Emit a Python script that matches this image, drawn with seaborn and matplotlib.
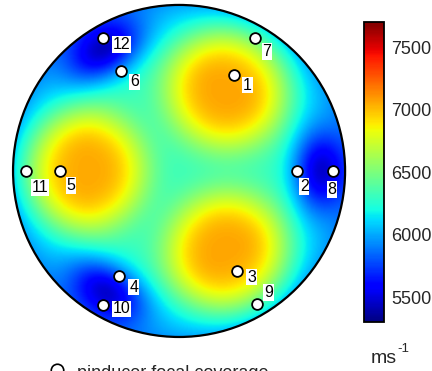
import numpy as np
import matplotlib
matplotlib.use("Agg")
import matplotlib.pyplot as plt
import matplotlib.patches as mpatches
from matplotlib.lines import Line2D
import seaborn as sns

# transducer positions on the unit disc
point_id = ["1", "2", "3", "4", "5", "6", "7", "8", "9", "10", "11", "12"]
point_x = [0.33, 0.71, 0.35, -0.36, -0.72, -0.35, 0.46, 0.93, 0.47, -0.46, -0.92, -0.46]
point_y = [0.58, 0.00, -0.60, -0.63, 0.00, 0.60, 0.80, 0.00, -0.80, -0.81, 0.00, 0.80]

# velocity field: background, three fast spots, three slow spots (ms-1)
v_background = 6310
v_rim_drop = 320
hot_angle = [60, 180, -60]
hot_radius = [0.57, 0.57, 0.57]
hot_gain = [750, 740, 750]
dip_angle = [0, 122, -121]
dip_radius = [0.84, 0.85, 0.84]
dip_depth = [700, 720, 700]

v_min, v_max = 5300, 7700
cbar_ticks = [5500, 6000, 6500, 7000, 7500]

# label box offsets in pixels (right, down) from each marker
label_dx = [8, 2, 9, 9, 6, 8, 6, -7, 6, 9, 4, 9]
label_dy = [2, 7, -2, 3, 6, 2, 5, 10, -20, -5, 8, -2]


def build_field(n=400):
    g = np.linspace(-1, 1, n)
    xx, yy = np.meshgrid(g, g)
    rr = np.hypot(xx, yy)
    tt = np.arctan2(yy, xx)
    v = np.full_like(xx, float(v_background))
    v -= v_rim_drop * np.clip((rr - 0.55) / 0.45, 0, None) ** 2
    for a, r0, gain in zip(hot_angle, hot_radius, hot_gain):
        cx, cy = r0 * np.cos(np.radians(a)), r0 * np.sin(np.radians(a))
        d = np.hypot(xx - cx, yy - cy)
        v += gain * np.exp(-(d / 0.37) ** 3.5)
    for a, r0, depth in zip(dip_angle, dip_radius, dip_depth):
        dt = np.angle(np.exp(1j * (tt - np.radians(a)))) * r0
        dr = rr - r0
        v -= depth * np.exp(-(dr ** 2 / (2 * 0.12 ** 2) + dt ** 2 / (2 * 0.18 ** 2)))
    return v


sns.set_theme(style="white")
plt.rcParams["font.family"] = ["Liberation Sans", "DejaVu Sans"]

fig = plt.figure(figsize=(4.32, 3.71), dpi=100)
ax = fig.add_axes([0.0225, 0.0827, 0.784, 0.913])
ax.set_xlim(-1.02, 1.02)
ax.set_ylim(-1.02, 1.02)
ax.set_aspect("equal")
ax.axis("off")

field = build_field()
im = ax.imshow(field, extent=(-1, 1, -1, 1), origin="lower", cmap="jet",
               vmin=v_min, vmax=v_max, interpolation="bilinear")
disc = mpatches.Circle((0, 0), 1.0, transform=ax.transData, fc="none")
im.set_clip_path(disc)
ax.add_patch(mpatches.Circle((0, 0), 1.0, fill=False, ec="black", lw=1.6, zorder=3))

sns.scatterplot(x=point_x, y=point_y, ax=ax, s=60, color="white",
                edgecolor="black", linewidth=1.3, zorder=4, legend=False)

for lbl, x, y, dx, dy in zip(point_id, point_x, point_y, label_dx, label_dy):
    ax.annotate(lbl, (x, y), xytext=(dx + 1, -dy - 1), textcoords="offset pixels",
                ha="left", va="top", fontsize=11.5, color="black", zorder=5,
                bbox=dict(boxstyle="square,pad=0.05", fc="white", ec="none"))

cax = fig.add_axes([0.8426, 0.132, 0.0463, 0.8086])
cb = fig.colorbar(im, cax=cax, ticks=cbar_ticks)
cb.outline.set_edgecolor("black")
cb.outline.set_linewidth(1.3)
cax.tick_params(length=0, pad=5, labelsize=13)

# unit label: "ms" with a raised "-1"
fig.text(0.857, 0.0216, "ms", ha="left", va="baseline", fontsize=14)
fig.text(0.921, 0.052, "-1", ha="left", va="baseline", fontsize=9.5)

# legend line at the bottom, clipped by the figure edge as in the original
fig.add_artist(Line2D([0.131], [0.004], transform=fig.transFigure, marker="o",
                      markersize=9, markerfacecolor="white",
                      markeredgecolor="black", markeredgewidth=1.2, linestyle=""))
fig.text(0.178, 0.016, "pinducer focal coverage", ha="left", va="top", fontsize=13)

fig.savefig("out.png", dpi=100)
